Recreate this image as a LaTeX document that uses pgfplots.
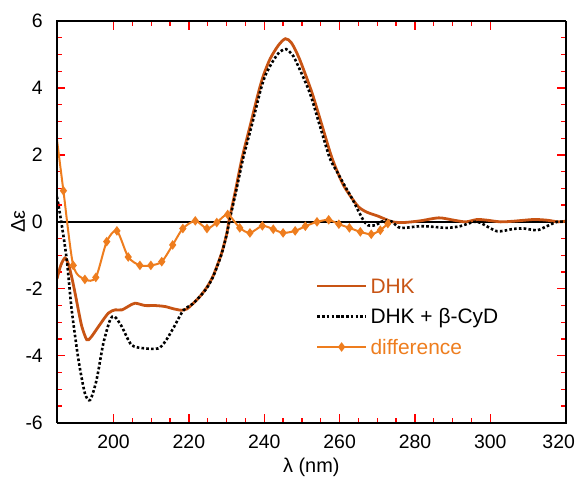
\documentclass[border=0pt]{standalone}
\usepackage{pgfplots}
\pgfplotsset{compat=1.18}
\usepackage{fontspec}
\setmainfont{Liberation Sans}
\definecolor{dhk}{RGB}{200,84,20}
\definecolor{diffc}{RGB}{238,125,30}
\begin{document}
\begin{tikzpicture}
\path (-57bp,-54.3bp) rectangle (521bp,422.7bp);
\begin{axis}[
  name=ax,
  scale only axis, width=508.7bp, height=401.7bp,
  xmin=185, xmax=320, ymin=-6, ymax=6,
  xtick={200,220,...,300}, ytick={-6,-4,...,6},
  extra x ticks={320},
  extra x tick style={xticklabel style={xshift=-7bp}},
  minor x tick num=3, minor y tick num=3,
  tick align=inside,
  major tick length=8.5bp, minor tick length=5bp,
  tick style={red, line width=1.3bp},
  /pgf/number format/assume math mode=true,
  tick label style={font=\fontsize{19.5}{22}\selectfont},
  xticklabel style={inner sep=0pt, yshift=-12.3bp},
  yticklabel style={inner sep=0pt, xshift=-14bp},
  xlabel={λ (nm)}, ylabel={Δε},
  label style={font=\fontsize{20}{24}\selectfont},
  xlabel style={at={(axis description cs:0.5,0)}, anchor=north, inner sep=0pt, yshift=-35bp},
  ylabel style={at={(axis description cs:0,0.5)}, anchor=center, inner sep=0pt, yshift=39bp},
  legend image code/.code={\draw[mark repeat=2,mark phase=2,#1] plot coordinates {(0bp,0bp) (24.5bp,0bp) (49bp,0bp)};},
  legend style={at={(0.5086,0.359)}, anchor=north west, draw=none, fill=none,
    inner sep=0pt, outer sep=0pt, row sep=15.5bp, column sep=3bp,
    font=\fontsize{21}{25}\selectfont,
    nodes={inner sep=0pt, text height=15bp, text depth=0pt}},
  legend cell align=left,
]
\addplot[black, line width=1.5bp, forget plot] coordinates {(185,0) (320,0)};
\addplot[dhk, line width=2.8bp, smooth, tension=0.45] coordinates {
(185,-1.7) (186,-1.3) (187.1,-1.08) (188,-1.25) (189,-1.7) (189.8,-2.13) (190.7,-2.65) (191.6,-3.13) (192.9,-3.52) (194,-3.45) (196,-3.13) (198.6,-2.73) (200.4,-2.63) (202.2,-2.63) (204,-2.52) (205.7,-2.43) (208.4,-2.5) (211,-2.5) (213.7,-2.53) (216,-2.6) (218,-2.64) (219.5,-2.6) (221,-2.45) (223,-2.22) (224.8,-1.95) (226.5,-1.6) (228.7,-0.93) (230.1,-0.33) (230.6,0) (232.3,0.9) (234.1,1.9) (236.3,2.89) (238.5,3.88) (239.8,4.38) (241.6,4.88) (243.8,5.28) (245.6,5.47) (247.2,5.35) (249.3,4.88) (252.6,3.88) (255.3,2.89) (258,1.9) (261,1.1) (264.6,0.5) (266.5,0.33) (268.1,0.25) (270,0.18) (271.7,0.1) (274,0) (277,-0.02) (281.4,0.03) (286.3,0.12) (290.3,0.05) (293.5,0.0) (296.5,0.07) (299.1,0.05) (302.7,0) (306.2,0.02) (311.5,0.07) (315,0.05) (318,0) (320,0.02)
};
\addlegendentry{\textcolor{dhk}{DHK}}
\addplot[black, line width=2.6bp, dash pattern=on 2.6bp off 2.2bp, smooth, tension=0.45] coordinates {
(185,0.75) (186.2,-0.05) (187.6,-1.14) (188.9,-2.63) (190.7,-4.12) (192.4,-5.12) (193.8,-5.32) (195.5,-4.72) (197.3,-3.63) (199.1,-2.93) (200.3,-2.83) (202.2,-3.13) (204.8,-3.68) (208.4,-3.78) (211.9,-3.78) (213.7,-3.58) (215.9,-3.17) (218.5,-2.65) (221,-2.45) (223,-2.22) (224.8,-1.97) (226.5,-1.62) (228.7,-0.95) (230.2,-0.3) (230.7,0) (232.5,0.9) (234.4,1.9) (236.7,2.89) (238.9,3.88) (240.3,4.38) (242.3,4.8) (244.1,5.08) (245.8,5.16) (247,5.05) (248.2,4.85) (252,3.88) (254.7,2.89) (257.4,1.9) (259.3,1.5) (261.5,1.05) (263.3,0.7) (265.1,0.3) (266.3,0.05) (267.5,-0.1) (269.5,-0.1) (271,0.0) (272.6,0.05) (274,0) (276.1,-0.18) (281.4,-0.13) (285,-0.15) (288.5,-0.18) (292,-0.13) (295.6,0) (297.4,-0.03) (301.8,-0.28) (306.2,-0.21) (309,-0.2) (312.4,-0.25) (315,-0.13) (317.7,0) (320,0)
};
\addlegendentry{DHK + β-CyD}
\addplot[diffc, line width=2bp, smooth, tension=0.45, mark=diamond*, mark size=3.2bp, mark phase=2, mark options={solid}] coordinates {
(185,2.45) (186.7,0.93) (189.3,-1.3) (192.4,-1.72) (195.3,-1.66) (198.2,-0.59) (200.9,-0.27) (203.9,-1.05) (207,-1.3) (209.9,-1.3) (212.8,-1.19) (215.7,-0.69) (218.4,-0.2) (221.7,0.03) (224.8,-0.2) (227.4,-0.02) (230.3,0.22) (233.5,-0.18) (236.2,-0.33) (239.5,-0.12) (242.4,-0.22) (245,-0.33) (248.2,-0.27) (250.9,-0.13) (254,0.0) (257.1,0.06) (259.8,-0.07) (262.6,-0.18) (265.5,-0.3) (268.4,-0.37) (270.8,-0.25) (272.8,-0.05)
};
\addlegendentry{\textcolor{diffc}{difference}}
\end{axis}
\draw[black, line width=1.4bp] (ax.south west) rectangle (ax.north east);
\end{tikzpicture}
\end{document}
